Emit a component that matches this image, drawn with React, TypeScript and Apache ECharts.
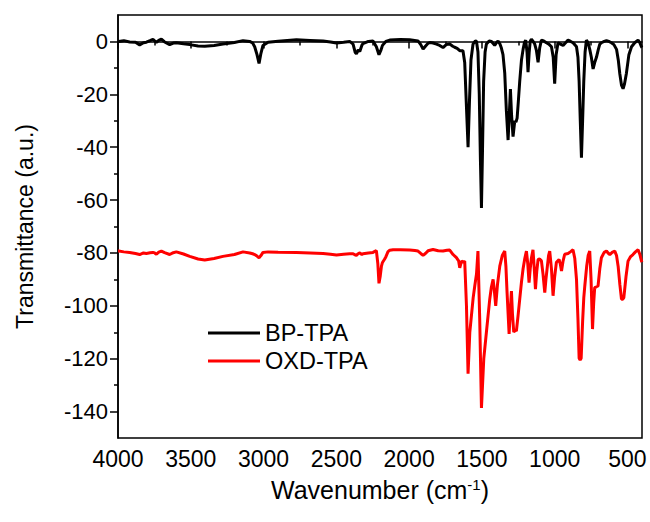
import React, { useEffect, useRef } from "react";
import * as echarts from "echarts";

const seriesNames = ["BP-TPA", "OXD-TPA"];

const bpTpaPoints: [number, number][] = [
  [4000, 0.2], [3995, 0.0], [3960, 0.3], [3920, -0.2], [3880, -0.3], [3851, -1.3], [3825, -0.5], [3805, -0.3],
  [3780, 0.3], [3760, 0.8], [3748, 0.2], [3736, -0.3], [3720, 0.4], [3702, 0.9], [3680, -0.2], [3645, -1.2],
  [3620, -0.6], [3599, -0.5], [3550, -0.9], [3507, -1.2], [3450, -1.7], [3404, -1.8], [3340, -1.5], [3279, -1.0],
  [3200, -0.4], [3141, 0.3], [3095, 0.0], [3075, -0.6], [3061, -2], [3045, -5], [3031, -8.3], [3018, -4.5],
  [3004, -1.5], [2969, -0.3], [2900, 0.1], [2774, 0.6], [2680, 0.4], [2591, 0.2], [2540, -0.2], [2499, -0.6],
  [2450, -0.3], [2408, 0.0], [2385, -1], [2370, -4.2], [2362, -4.7], [2350, -3.2], [2339, -3.8], [2325, -1.5],
  [2317, -0.8], [2280, 0], [2248, 0.2], [2225, -2], [2207, -5], [2195, -3.5], [2183, -1.5], [2160, 0],
  [2133, 0.5], [2060, 0.7], [1996, 0.6], [1939, 0.2], [1920, -1.2], [1904, -2.9], [1888, -1.8], [1870, -0.7],
  [1858, -0.4], [1835, -0.6], [1812, -1.0], [1790, -1.5], [1767, -2.3], [1745, -1.2], [1721, -1.0], [1700, -1.8],
  [1687, -2.2], [1670, -2.6], [1652, -3.5], [1630, -3.5], [1618, -8], [1608, -22], [1595, -40], [1585, -22],
  [1575, -7], [1561, -1], [1545, 0.2], [1537, 0], [1527, -4], [1518, -20], [1510, -45], [1503, -63],
  [1496, -42], [1488, -15], [1478, -4], [1469, -1], [1450, 0.2], [1434, 0], [1412, -1.5], [1400, -0.5],
  [1389, 0.2], [1376, -1], [1366, -2.5], [1355, -5], [1343, -12], [1332, -26], [1320, -37.3], [1312, -28],
  [1304, -18], [1296, -28], [1286, -36], [1280, -33], [1274, -30], [1266, -30.5], [1258, -29], [1250, -23],
  [1240, -15], [1228, -7], [1217, -3], [1208, -0.5], [1199, 0.5], [1190, -4], [1183, -11.6], [1175, -4],
  [1168, 0], [1160, 0.9], [1148, 0], [1137, -1], [1125, -3.5], [1114, -7.9], [1103, -2.5], [1091, 0.5],
  [1075, 0.2], [1057, -0.5], [1040, -1], [1022, -2], [1010, -6], [1000, -16], [990, -5], [977, -0.5],
  [960, -1], [942, -1.5], [925, -0.5], [908, 0.5], [890, 0], [874, -0.5], [862, -1.2], [850, -2],
  [840, -6], [832, -15], [824, -30], [816, -44], [808, -30], [800, -15], [791, -4], [782, 0.5],
  [770, -0.5], [759, -3], [748, -6], [736, -10.4], [725, -8], [713, -6], [700, -3], [690, -1],
  [679, -0.5], [660, 0], [644, 0.3], [628, 0], [610, -0.5], [593, -1.2], [575, -3], [563, -7],
  [553, -12], [541, -16.5], [530, -17.9], [520, -16], [507, -12], [490, -5], [472, -2], [450, -0.5],
  [427, 0.5], [415, -0.5], [404, -2], [400, -2.3],
];

const oxdTpaPoints: [number, number][] = [
  [4000, -79.3], [3995, -79.3], [3960, -79.6], [3920, -79.8], [3880, -80.2], [3851, -80.6], [3825, -80.0], [3805, -80.2],
  [3780, -79.9], [3760, -79.8], [3748, -80.0], [3736, -80.5], [3720, -79.7], [3702, -79.3], [3680, -79.9], [3645, -80.6],
  [3620, -79.9], [3599, -79.6], [3550, -80.4], [3507, -81.3], [3450, -82.3], [3404, -82.7], [3340, -82.1], [3279, -81.3],
  [3200, -80.6], [3141, -79.6], [3095, -80], [3075, -80.3], [3061, -80.6], [3045, -81.2], [3031, -81.8], [3018, -81],
  [3004, -79.8], [2969, -79.6], [2900, -79.7], [2774, -79.8], [2680, -80], [2591, -80.2], [2540, -80.5], [2499, -80.8],
  [2450, -80.5], [2408, -80.3], [2385, -80.3], [2370, -80.8], [2362, -80.9], [2350, -80.3], [2339, -80], [2325, -80.6],
  [2317, -80.3], [2280, -80], [2248, -79.8], [2225, -79.1], [2215, -84], [2207, -91.5], [2199, -89], [2190, -85],
  [2183, -83.6], [2170, -82.5], [2160, -81.5], [2145, -79.5], [2133, -79], [2110, -78.8], [2060, -78.8], [1996, -78.9],
  [1960, -79.1], [1939, -79.3], [1920, -80.2], [1904, -80.9], [1888, -80.2], [1870, -79.2], [1836, -78.7], [1800, -79.2],
  [1767, -79.3], [1740, -79.0], [1721, -78.9], [1698, -80.6], [1675, -81.8], [1660, -83], [1652, -85.6], [1640, -83.1],
  [1628, -83.5], [1618, -83.1], [1606, -100], [1595, -125.7], [1583, -110], [1572, -103.8], [1560, -97], [1549, -92.5],
  [1537, -88], [1527, -79.3], [1515, -105], [1503, -138.6], [1487, -120], [1469, -110], [1458, -104], [1446, -97.5],
  [1435, -93], [1423, -90], [1415, -94], [1405, -100], [1393, -92], [1377, -85], [1360, -81], [1343, -79.3],
  [1335, -85], [1327, -95], [1313, -110.6], [1305, -102], [1297, -94.4], [1290, -103], [1281, -110], [1272, -109],
  [1263, -109.6], [1252, -104], [1240, -97.5], [1228, -91], [1217, -86], [1205, -82], [1194, -79.3], [1185, -84],
  [1176, -91.2], [1168, -86], [1160, -82], [1149, -78.8], [1140, -86], [1132, -93.7], [1123, -87], [1114, -82.5],
  [1103, -82.3], [1091, -83], [1080, -88], [1068, -95], [1060, -90], [1050, -85], [1042, -81], [1034, -79.3],
  [1022, -86], [1011, -96.2], [1000, -89], [988, -83.5], [970, -82.5], [962, -84], [953, -86.8], [942, -83],
  [931, -80.5], [908, -80.2], [890, -79.5], [874, -78.8], [862, -82], [850, -90], [840, -105], [832, -119.8],
  [825, -120.5], [818, -119.8], [808, -106], [800, -97], [793, -92.5], [780, -85], [770, -81], [759, -79.3],
  [750, -90], [740, -108.8], [732, -99], [725, -93.1], [713, -92.8], [702, -92.5], [690, -86], [679, -81.8],
  [660, -79.8], [644, -79.3], [630, -80.2], [621, -80.6], [605, -79.8], [587, -79.3], [575, -81], [564, -85],
  [552, -92], [541, -97.5], [533, -97.5], [525, -97], [510, -89], [496, -83.1], [480, -81.5], [462, -80.6],
  [445, -79.6], [427, -78.8], [415, -80.5], [404, -83], [400, -83.5],
];

const xMajorTicks = [500, 1000, 1500, 2000, 2500, 3000, 3500, 4000];
const xMinorTicks = [750, 1250, 1750, 2250, 2750, 3250, 3750];
const yMajorTicks = [-140, -120, -100, -80, -60, -40, -20, 0];
const yMinorTicks = [-130, -110, -90, -70, -50, -30, -10];

const FONT = "'Liberation Sans', Arial, Helvetica, sans-serif";

export default function App() {
  const ref = useRef<HTMLDivElement>(null);

  useEffect(() => {
    document.body.style.margin = "0";
    if (!ref.current) return;
    const chart = echarts.init(ref.current, undefined, { renderer: "svg" });
    const axisLine = { show: true, lineStyle: { color: "#000", width: 1.5 } };
    const plain = (v: number) => String(v);
    const xBase = {
      type: "value" as const,
      min: 400,
      max: 4000,
      inverse: true,
      position: "bottom" as const,
      splitLine: { show: false },
    };
    const yBase = {
      type: "value" as const,
      min: -150,
      max: 10,
      position: "left" as const,
      splitLine: { show: false },
    };
    chart.setOption({
      animation: false,
      backgroundColor: "#fff",
      textStyle: { fontFamily: FONT },
      grid: {
        left: 118,
        right: 8,
        top: 15,
        bottom: 84,
        show: true,
        borderColor: "#000",
        borderWidth: 1.5,
        containLabel: false,
        outerBoundsMode: "none",
      },
      legend: {
        data: seriesNames,
        orient: "vertical",
        left: 208,
        top: 321,
        padding: 0,
        itemWidth: 52,
        itemHeight: 3,
        itemGap: 4,
        icon: "rect",
        textStyle: { fontFamily: FONT, fontSize: 23.5, color: "#000" },
      },
      xAxis: [
        {
          ...xBase,
          name: "{a|Wavenumber (cm}{s|-1}{a|)}",
          nameLocation: "middle",
          nameGap: 39,
          nameTextStyle: {
            rich: {
              a: { fontFamily: FONT, fontSize: 25, color: "#000" },
              s: { fontFamily: FONT, fontSize: 15, color: "#000", verticalAlign: "top", padding: [0, 0, 11, 0] },
            },
          },
          axisLine,
          axisTick: { show: true, customValues: xMajorTicks, length: 7, lineStyle: { color: "#000", width: 1.5 } },
          axisLabel: { customValues: xMajorTicks, formatter: plain, margin: 9, fontFamily: FONT, fontSize: 23, color: "#000" },
        },
        {
          ...xBase,
          axisLine: { show: false },
          axisTick: { show: true, customValues: xMinorTicks, length: 4, lineStyle: { color: "#000", width: 1.5 } },
          axisLabel: { show: false },
        },
      ],
      yAxis: [
        {
          ...yBase,
          name: "Transmittance (a.u.)",
          nameLocation: "middle",
          nameGap: 82,
          nameTextStyle: { fontFamily: FONT, fontSize: 23, color: "#000" },
          axisLine,
          axisTick: { show: true, customValues: yMajorTicks, length: 8, lineStyle: { color: "#000", width: 1.5 } },
          axisLabel: { customValues: yMajorTicks, formatter: plain, margin: 10, fontFamily: FONT, fontSize: 22, color: "#000" },
        },
        {
          ...yBase,
          offset: 0,
          axisLine: { show: false },
          axisTick: { show: true, customValues: yMinorTicks, length: 4, lineStyle: { color: "#000", width: 1.5 } },
          axisLabel: { show: false },
        },
      ],
      series: [
        {
          name: seriesNames[0],
          type: "line",
          data: bpTpaPoints,
          xAxisIndex: 0,
          yAxisIndex: 0,
          showSymbol: false,
          symbol: "none",
          color: "#000000",
          lineStyle: { color: "#000000", width: 3 },
        },
        {
          name: seriesNames[1],
          type: "line",
          data: oxdTpaPoints,
          xAxisIndex: 0,
          yAxisIndex: 0,
          showSymbol: false,
          symbol: "none",
          color: "#ff0000",
          lineStyle: { color: "#ff0000", width: 3 },
        },
      ],
    });
    return () => chart.dispose();
  }, []);

  return <div ref={ref} style={{ width: 650, height: 522 }} />;
}
